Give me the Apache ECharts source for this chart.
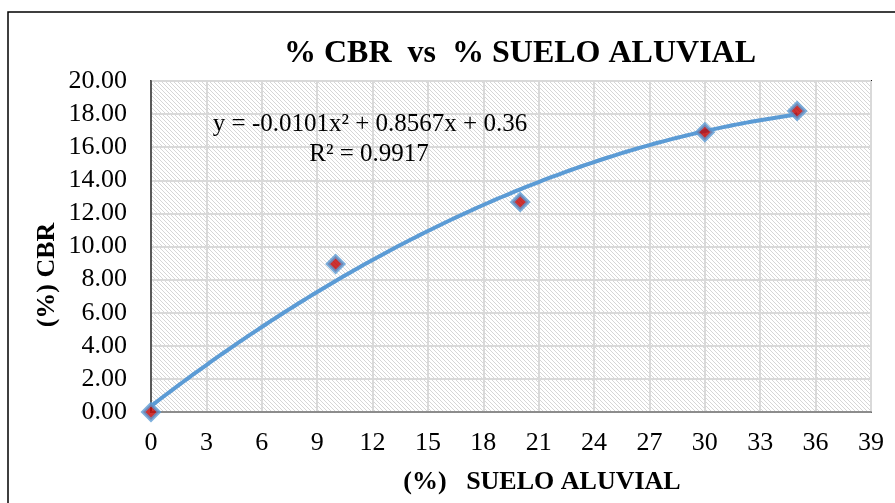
<!DOCTYPE html>
<html>
<head>
<meta charset="utf-8">
<script src="https://cdn.jsdelivr.net/npm/echarts@6/dist/echarts.min.js"></script>
<style>
  html, body { margin: 0; padding: 0; background: #ffffff; }
  #chart { width: 895px; height: 503px; }
</style>
</head>
<body>
<div id="chart"></div>
<script>
// Measured samples: % alluvial soil vs % CBR
const sueloAluvial = [0, 10, 20, 30, 35];
const cbr = [0.00, 8.94, 12.69, 16.90, 18.19];

// Polynomial trendline (order 2) as stated in the label
const trendCoef = { a: -0.0101, b: 0.8567, c: 0.36 };
const trendR2 = 0.9917;

const xTicks = { min: 0, max: 39, step: 3 };
const yTicks = { min: 0, max: 20, step: 2 };

const FONT = 'Liberation Serif';

// Trendline samples along the data range
const trendPoints = [];
for (let x = 0; x <= 35; x += 0.5) {
  trendPoints.push([x, trendCoef.a * x * x + trendCoef.b * x + trendCoef.c]);
}

// Light diagonal hatch used for the plot background
function hatchPattern() {
  const n = 4;
  const c = document.createElement('canvas');
  c.width = n; c.height = n;
  const g = c.getContext('2d');
  g.fillStyle = '#ffffff';
  g.fillRect(0, 0, n, n);
  g.fillStyle = '#d6d6d6';
  for (let i = 0; i < n; i++) {
    g.fillRect(i, i, 1, 1);
  }
  return c;
}

const chart = echarts.init(document.getElementById('chart'), null, { renderer: 'canvas' });

const eqText = 'y = ' + trendCoef.a.toFixed(4) + 'x² + ' + trendCoef.b.toFixed(4) + 'x + ' + trendCoef.c.toFixed(2);

chart.setOption({
  animation: false,
  backgroundColor: '#ffffff',
  grid: {
    left: 151, top: 81, right: 24, bottom: 91,
    show: true,
    backgroundColor: { image: hatchPattern(), repeat: 'repeat' },
    borderColor: '#1a1a1a',
    borderWidth: 2
  },
  xAxis: {
    type: 'value',
    min: xTicks.min, max: xTicks.max, interval: xTicks.step,
    axisLine: { show: true, onZero: false, lineStyle: { color: '#8c8c8c', width: 2 } },
    axisTick: { show: false },
    axisLabel: { color: '#000', fontFamily: FONT, fontSize: 26, margin: 18 },
    splitLine: { show: true, lineStyle: { color: '#d9d9d9', width: 2 } }
  },
  yAxis: {
    type: 'value',
    min: yTicks.min, max: yTicks.max, interval: yTicks.step,
    axisLine: { show: true, onZero: false, lineStyle: { color: '#595959', width: 2 } },
    axisTick: { show: false },
    axisLabel: {
      color: '#000', fontFamily: FONT, fontSize: 26, margin: 24,
      formatter: v => v.toFixed(2)
    },
    splitLine: { show: true, lineStyle: { color: '#d9d9d9', width: 2 } }
  },
  series: [
    {
      type: 'line',
      data: trendPoints,
      showSymbol: false,
      smooth: true,
      lineStyle: { color: '#5b9bd5', width: 4 },
      z: 2
    },
    {
      type: 'scatter',
      data: sueloAluvial.map((x, i) => [x, cbr[i]]),
      symbol: 'diamond',
      symbolSize: 16,
      itemStyle: { color: '#c00000', borderColor: '#5b9bd5', borderWidth: 3.5 },
      z: 3
    }
  ],
  graphic: [
    {
      type: 'rect', silent: true, z: -1,
      shape: { x: 8, y: 12, width: 1000, height: 600 },
      style: { fill: 'none', stroke: '#000', lineWidth: 1.5 }
    },
    {
      type: 'text', x: 520, y: 54,
      style: {
        text: '% CBR  vs  % SUELO ALUVIAL',
        font: 'bold 32px "' + FONT + '"', fill: '#000',
        textAlign: 'center', textVerticalAlign: 'middle'
      }
    },
    {
      type: 'text', x: 542, y: 482,
      style: {
        text: '(%)   SUELO ALUVIAL',
        font: 'bold 26px "' + FONT + '"', fill: '#000',
        textAlign: 'center', textVerticalAlign: 'middle'
      }
    },
    {
      type: 'text', x: 47, y: 275, rotation: Math.PI / 2,
      style: {
        text: '(%) CBR',
        font: 'bold 26px "' + FONT + '"', fill: '#000',
        textAlign: 'center', textVerticalAlign: 'middle'
      }
    },
    {
      type: 'text', x: 370, y: 124, z: 10,
      style: {
        text: eqText,
        font: '25px "' + FONT + '"', fill: '#000',
        textAlign: 'center', textVerticalAlign: 'middle'
      }
    },
    {
      type: 'text', x: 369, y: 154, z: 10,
      style: {
        text: 'R² = ' + trendR2.toFixed(4),
        font: '25px "' + FONT + '"', fill: '#000',
        textAlign: 'center', textVerticalAlign: 'middle'
      }
    }
  ]
});
</script>
</body>
</html>
